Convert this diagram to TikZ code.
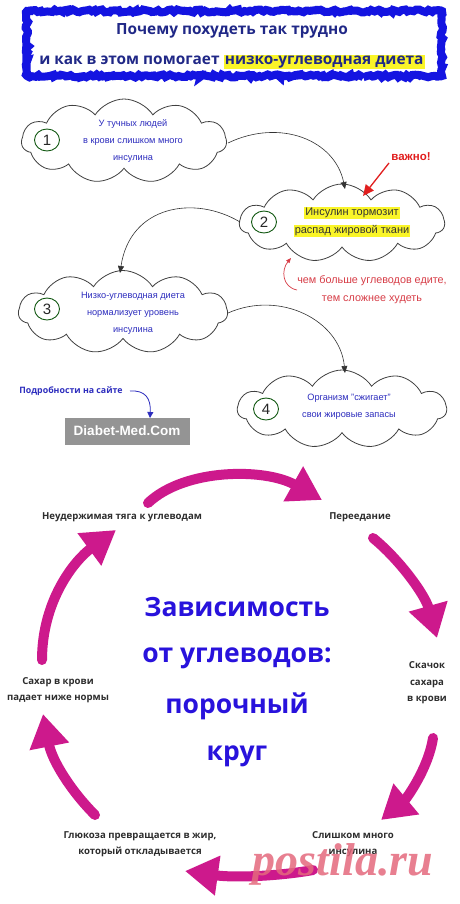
\documentclass[tikz,border=0pt]{standalone}
\usepackage{fontspec}
\setmainfont{Liberation Sans}
\newfontfamily\osans{Open Sans}
\newfontfamily\wmfont{Liberation Serif}
\usetikzlibrary{shapes.symbols,shapes.geometric,arrows.meta,decorations.pathmorphing}
\definecolor{titleblue}{RGB}{20,20,225}
\definecolor{navy}{RGB}{32,40,135}
\definecolor{hly}{RGB}{250,245,40}
\definecolor{cblue}{RGB}{45,45,190}
\definecolor{cgreen}{RGB}{20,90,20}
\definecolor{redc}{RGB}{225,30,30}
\definecolor{redt}{RGB}{215,60,70}
\definecolor{bigblue}{RGB}{40,18,220}
\definecolor{mag}{RGB}{205,25,140}
\definecolor{lbl}{RGB}{45,45,45}
\definecolor{wmc}{RGB}{228,105,125}
\newcommand\hlbox[1]{{\setlength{\fboxsep}{1.2pt}\colorbox{hly}{#1}}}
\begin{document}
\begin{tikzpicture}[x=1pt,y=-1pt,
  cloudbox/.style={cloud, draw=black!75, line width=0.8pt, fill=white, cloud puffs=11, cloud puff arc=115, cloud ignores aspect, inner sep=0pt},
  numc/.style={ellipse, draw=cgreen, line width=0.9pt, minimum width=25pt, minimum height=22pt, inner sep=0pt, font=\fontsize{15}{15}\selectfont, text=black!85},
  ctext/.style={align=center, text=cblue, font=\fontsize{9.2}{17}\selectfont},
  lab/.style={align=center, text=lbl, font=\osans\bfseries\fontsize{9.6}{16.5}\selectfont},
  big/.style={text=bigblue, font=\osans\bfseries\fontsize{26.5}{30}\selectfont},
  thinarr/.style={black!80, line width=0.6pt, -{Triangle[length=7pt,width=6pt]}},
  magarr/.style={mag, line width=10pt, line cap=round, -{Triangle[width=38pt,length=33pt]}},
  ]
\useasboundingbox (0,0) rectangle (460,904);
\fill[white] (0,0) rectangle (460,904);

% title
\draw[titleblue, line width=8pt, decorate, decoration={random steps,segment length=2.5pt,amplitude=1.5pt}] (27,11) rectangle (442,76);
\node (t1) at (232,31) [text=navy, font=\osans\bfseries\fontsize{15.4}{16}\selectfont] {Почему похудеть так трудно};
\node (t2) at (232,62) [text=navy, font=\osans\bfseries\fontsize{15.4}{16}\selectfont] {и как в этом помогает \hlbox{низко-углеводная диета}};

% clouds
\node (c1) at (124,141) [cloudbox, minimum width=205pt, minimum height=84pt] {};
\node (c2) at (342,223) [cloudbox, minimum width=205pt, minimum height=78pt] {};
\node (c3) at (123,312) [cloudbox, minimum width=209pt, minimum height=83pt] {};
\node (c4) at (342,409) [cloudbox, minimum width=209pt, minimum height=78pt] {};

\node (n1) at (47,140) [numc] {1};
\node (n2) at (264,222) [numc] {2};
\node (n3) at (47,309) [numc] {3};
\node (n4) at (266,409) [numc] {4};

\node (x1) at (133,141) [ctext] {У тучных людей\\в крови слишком много\\инсулина};
\node (x2) at (352,222) [align=center, text=black!80, font=\fontsize{11}{18.5}\selectfont] {\hlbox{Инсулин тормозит}\\\hlbox{распад жировой ткани}};
\node (x3) at (133,313) [ctext] {Низко-углеводная диета\\нормализует уровень\\инсулина};
\node (x4) at (349,407) [ctext] {Организм "сжигает"\\свои жировые запасы};

% connectors
\coordinate (a1s) at (228,143);
\coordinate (a1e) at (345,189);
\draw[thinarr] (a1s) .. controls (280,118) and (335,140) .. (a1e);
\coordinate (a2s) at (240,222);
\coordinate (a2e) at (120,273);
\draw[thinarr] (a2s) .. controls (195,195) and (130,205) .. (a2e);
\coordinate (a3s) at (228,313);
\coordinate (a3e) at (345,373);
\draw[thinarr] (a3s) .. controls (280,290) and (340,320) .. (a3e);

% important
\node (imp) at (411,157) [text=redc, font=\bfseries\fontsize{11.5}{11}\selectfont] {важно!};
\coordinate (is) at (389,163);
\coordinate (ie) at (363,196);
\draw[redc, line width=1.3pt, -{Triangle[length=11pt,width=10pt]}] (is) -- (ie);

\node (rt) at (372,290) [align=center, text=redt, font=\fontsize{10.8}{18}\selectfont] {чем больше углеводов едите,\\тем сложнее худеть};
\coordinate (rs) at (297,290);
\coordinate (re) at (291,258);
\draw[redt, line width=0.7pt, -{Triangle[length=5pt,width=4pt]}] (rs) .. controls (282,287) and (281,270) .. (re);

% site
\node (pod) at (71,391) [text=cblue, font=\osans\bfseries\fontsize{8.8}{9}\selectfont] {Подробности на сайте};
\node (site) at (127,431) [fill=black!42, minimum width=125pt, minimum height=27pt, text=white, font=\bfseries\fontsize{13.5}{14}\selectfont] {Diabet-Med.Com};
\coordinate (ps) at (130,391);
\coordinate (pe) at (150,418);
\draw[cblue, line width=0.8pt, -{Triangle[length=6pt,width=6pt]}] (ps) .. controls (145,390) and (151,398) .. (pe);

% vicious circle
\node (b1) at (237,607) [big] {Зависимость};
\node (b2) at (237,658) [big] {от углеводов:};
\node (b3) at (237,706) [big] {порочный};
\node (b4) at (237,756) [big] {круг};

\node (l1) at (122,517) [lab] {Неудержимая тяга к углеводам};
\node (l2) at (360,517) [lab] {Переедание};
\node (l3) at (427,683) [lab] {Скачок\\сахара\\в крови};
\node (l4) at (353,844) [lab] {Слишком много\\инсулина};
\node (l5) at (140,844) [lab] {Глюкоза превращается в жир,\\который откладывается};
\node (l6) at (58,690) [lab] {Сахар в крови\\падает ниже нормы};

\coordinate (m1s) at (148,503); \coordinate (m1e) at (322,500);
\coordinate (m2s) at (373,538); \coordinate (m2e) at (437,638);
\coordinate (m3s) at (433,738); \coordinate (m3e) at (381,820);
\coordinate (m4s) at (313,870); \coordinate (m4e) at (185,871);
\coordinate (m5s) at (95,815);  \coordinate (m5e) at (43,714);
\coordinate (m6s) at (42,660);  \coordinate (m6e) at (116,530);
\draw[magarr] (m1s) .. controls (185,468) and (265,468) .. (m1e);
\draw[magarr] (m2s) .. controls (400,560) and (425,595) .. (m2e);
\draw[magarr] (m3s) .. controls (428,770) and (405,800) .. (m3e);
\draw[magarr] (m4s) .. controls (280,876) and (235,878) .. (m4e);
\draw[magarr] (m5s) .. controls (70,790) and (52,760) .. (m5e);
\draw[magarr] (m6s) .. controls (42,600) and (75,560) .. (m6e);

% watermark
\node (wm) at (343,864) [text=wmc, opacity=0.85, font=\wmfont\itshape\bfseries\fontsize{46}{46}\selectfont] {postila.ru};
\end{tikzpicture}
\end{document}
